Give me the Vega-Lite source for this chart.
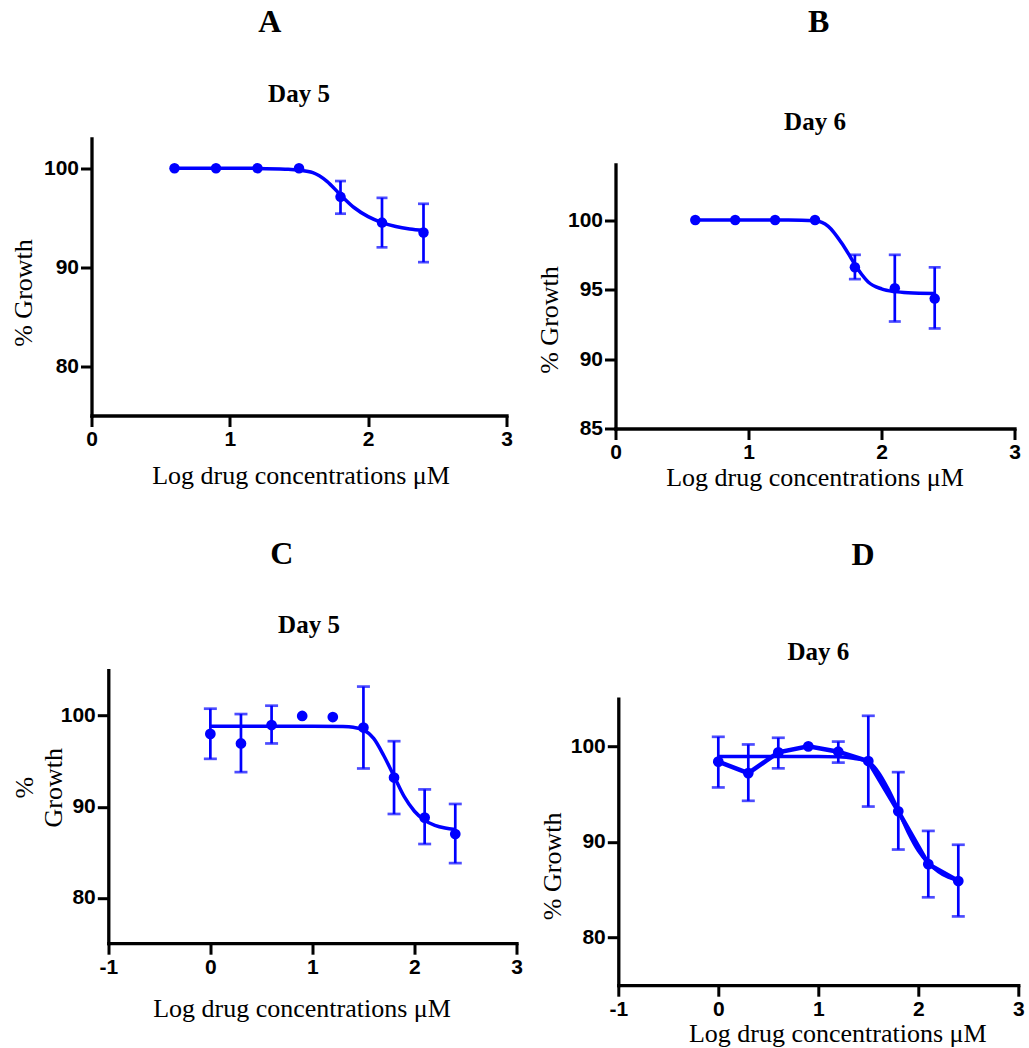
{
  "$schema": "https://vega.github.io/schema/vega-lite/v6.json",
  "background": "white",
  "padding": {"left": 10.5, "top": 5.5, "right": 0, "bottom": 0},
  "config": {
    "view": {"stroke": null},
    "axis": {
      "grid": false,
      "domainColor": "black",
      "domainWidth": 3.3,
      "domainCap": "square",
      "tickColor": "black",
      "tickWidth": 3,
      "tickSize": 11,
      "labelFont": "Liberation Sans",
      "labelFontWeight": "bold",
      "labelFontSize": 21,
      "labelColor": "black",
      "labelPadding": 2,
      "labelOverlap": false,
      "labelFlush": false,
      "titleFont": "Liberation Serif",
      "titleFontWeight": "normal",
      "titleFontSize": 26,
      "titleColor": "black",
      "titleBaseline": "alphabetic",
      "titleAlign": "center"
    },
    "title": {"font": "Liberation Serif", "fontWeight": "bold", "color": "black", "anchor": "middle"}
  },
  "datasets": {
    "ptsA": [
      {"x": 0.6, "y": 100}, {"x": 0.9, "y": 100}, {"x": 1.2, "y": 100}, {"x": 1.5, "y": 100},
      {"x": 1.8, "y": 97.1, "lo": 95.4, "hi": 98.7},
      {"x": 2.1, "y": 94.5, "lo": 92.0, "hi": 97.0},
      {"x": 2.4, "y": 93.5, "lo": 90.5, "hi": 96.4}
    ],
    "fitA": [
      {"x": 0.6, "y": 100}, {"x": 1.0, "y": 100}, {"x": 1.2, "y": 99.98}, {"x": 1.4, "y": 99.9},
      {"x": 1.5, "y": 99.8}, {"x": 1.6, "y": 99.55}, {"x": 1.7, "y": 98.7}, {"x": 1.8, "y": 97.3},
      {"x": 1.9, "y": 96.0}, {"x": 2.0, "y": 95.1}, {"x": 2.1, "y": 94.5}, {"x": 2.2, "y": 94.1},
      {"x": 2.3, "y": 93.85}, {"x": 2.4, "y": 93.7}
    ],
    "ptsB": [
      {"x": 0.6, "y": 100}, {"x": 0.9, "y": 100}, {"x": 1.2, "y": 100}, {"x": 1.5, "y": 100},
      {"x": 1.8, "y": 96.6, "lo": 95.75, "hi": 97.5},
      {"x": 2.1, "y": 95.1, "lo": 92.7, "hi": 97.5},
      {"x": 2.4, "y": 94.35, "lo": 92.2, "hi": 96.6}
    ],
    "fitB": [
      {"x": 0.6, "y": 100}, {"x": 1.0, "y": 100}, {"x": 1.3, "y": 100}, {"x": 1.5, "y": 99.95},
      {"x": 1.6, "y": 99.55}, {"x": 1.7, "y": 98.35}, {"x": 1.75, "y": 97.6}, {"x": 1.8, "y": 96.8},
      {"x": 1.85, "y": 96.1}, {"x": 1.9, "y": 95.55}, {"x": 2.0, "y": 95.05}, {"x": 2.1, "y": 94.85},
      {"x": 2.2, "y": 94.77}, {"x": 2.4, "y": 94.72}
    ],
    "ptsC": [
      {"x": 0, "y": 98.0, "lo": 95.26, "hi": 100.77},
      {"x": 0.3, "y": 96.95, "lo": 93.8, "hi": 100.18},
      {"x": 0.6, "y": 98.97, "lo": 96.95, "hi": 101.1},
      {"x": 0.9, "y": 99.97},
      {"x": 1.2, "y": 99.85},
      {"x": 1.5, "y": 98.7, "lo": 94.2, "hi": 103.2},
      {"x": 1.8, "y": 93.2, "lo": 89.2, "hi": 97.2},
      {"x": 2.1, "y": 88.8, "lo": 85.9, "hi": 91.9},
      {"x": 2.4, "y": 87.0, "lo": 83.8, "hi": 90.3}
    ],
    "fitC": [
      {"x": 0, "y": 98.85}, {"x": 0.5, "y": 98.85}, {"x": 1.0, "y": 98.85}, {"x": 1.3, "y": 98.8},
      {"x": 1.4, "y": 98.72}, {"x": 1.5, "y": 98.45}, {"x": 1.6, "y": 97.5}, {"x": 1.7, "y": 95.6},
      {"x": 1.8, "y": 93.35}, {"x": 1.9, "y": 91.1}, {"x": 2.0, "y": 89.5}, {"x": 2.1, "y": 88.5},
      {"x": 2.2, "y": 87.95}, {"x": 2.3, "y": 87.65}, {"x": 2.4, "y": 87.5}
    ],
    "ptsD": [
      {"x": 0, "y": 98.4, "lo": 95.7, "hi": 101.0},
      {"x": 0.3, "y": 97.2, "lo": 94.3, "hi": 100.2},
      {"x": 0.6, "y": 99.37, "lo": 97.7, "hi": 100.9},
      {"x": 0.9, "y": 100},
      {"x": 1.2, "y": 99.44, "lo": 98.3, "hi": 100.5},
      {"x": 1.5, "y": 98.46, "lo": 93.7, "hi": 103.2},
      {"x": 1.8, "y": 93.2, "lo": 89.2, "hi": 97.3},
      {"x": 2.1, "y": 87.67, "lo": 84.2, "hi": 91.15},
      {"x": 2.4, "y": 85.9, "lo": 82.2, "hi": 89.7}
    ],
    "fitD": [
      {"x": 0, "y": 98.95}, {"x": 0.5, "y": 98.95}, {"x": 1.0, "y": 98.95}, {"x": 1.2, "y": 98.9},
      {"x": 1.35, "y": 98.75}, {"x": 1.5, "y": 98.4}, {"x": 1.6, "y": 97.3}, {"x": 1.7, "y": 95.5},
      {"x": 1.8, "y": 93.3}, {"x": 1.9, "y": 91.0}, {"x": 2.0, "y": 89.1}, {"x": 2.1, "y": 87.8},
      {"x": 2.2, "y": 86.9}, {"x": 2.3, "y": 86.3}, {"x": 2.4, "y": 86.0}
    ]
  },
  "spacing": 46.7,
  "vconcat": [
    {
      "spacing": 24,
      "hconcat": [
        {
          "title": {"text": "A", "fontSize": 32, "dx": 8.5, "offset": 42.8},
          "vconcat": [
            {
              "title": {"text": "Day 5", "fontSize": 25, "offset": 31.8},
              "width": 415,
              "height": 277,
              "encoding": {
                "x": {"field": "x", "type": "quantitative", "scale": {"domain": [0, 3], "nice": false, "zero": false},
                      "axis": {"values": [0, 1, 2, 3], "title": "Log drug concentrations μM", "titleX": 209, "titleY": 68}},
                "y": {"field": "y", "type": "quantitative", "scale": {"domain": [75, 103], "nice": false, "zero": false},
                      "axis": {"values": [80, 90, 100], "title": "% Growth", "titleAngle": 270, "titleX": -60, "titleY": 154}}
              },
              "layer": [
                {"data": {"name": "fitA"}, "mark": {"type": "line", "color": "#0000ff", "strokeWidth": 3.5, "interpolate": "monotone"}},
                {"data": {"name": "ptsA"}, "transform": [{"filter": "isValid(datum.lo)"}],
                 "mark": {"type": "rule", "color": "#0000ff", "strokeWidth": 2.7},
                 "encoding": {"y": {"field": "lo", "type": "quantitative"}, "y2": {"field": "hi"}}},
                {"data": {"name": "ptsA"}, "transform": [{"filter": "isValid(datum.lo)"}],
                 "mark": {"type": "tick", "orient": "horizontal", "color": "#0000ff", "size": 11, "thickness": 2.7},
                 "encoding": {"y": {"field": "lo", "type": "quantitative"}}},
                {"data": {"name": "ptsA"}, "transform": [{"filter": "isValid(datum.lo)"}],
                 "mark": {"type": "tick", "orient": "horizontal", "color": "#0000ff", "size": 11, "thickness": 2.7},
                 "encoding": {"y": {"field": "hi", "type": "quantitative"}}},
                {"data": {"name": "ptsA"}, "mark": {"type": "circle", "color": "#0000ff", "opacity": 1, "size": 110}}
              ]
            }
          ]
        },
        {
          "title": {"text": "B", "fontSize": 32, "dx": 40.3, "offset": 71.5},
          "vconcat": [
            {
              "title": {"text": "Day 6", "fontSize": 25, "offset": 3.5},
              "width": 399,
              "height": 290,
              "encoding": {
                "x": {"field": "x", "type": "quantitative", "scale": {"domain": [0, 3], "nice": false, "zero": false},
                      "axis": {"values": [0, 1, 2, 3], "title": "Log drug concentrations μM", "titleX": 199, "titleY": 57}},
                "y": {"field": "y", "type": "quantitative", "scale": {"domain": [85, 104], "range": [290, 26], "nice": false, "zero": false},
                      "axis": {"values": [85, 90, 95, 100], "title": "% Growth", "titleAngle": 270, "titleX": -58, "titleY": 181}}
              },
              "layer": [
                {"data": {"name": "fitB"}, "mark": {"type": "line", "color": "#0000ff", "strokeWidth": 3.5, "interpolate": "monotone"}},
                {"data": {"name": "ptsB"}, "transform": [{"filter": "isValid(datum.lo)"}],
                 "mark": {"type": "rule", "color": "#0000ff", "strokeWidth": 2.7},
                 "encoding": {"y": {"field": "lo", "type": "quantitative"}, "y2": {"field": "hi"}}},
                {"data": {"name": "ptsB"}, "transform": [{"filter": "isValid(datum.lo)"}],
                 "mark": {"type": "tick", "orient": "horizontal", "color": "#0000ff", "size": 12, "thickness": 2.7},
                 "encoding": {"y": {"field": "lo", "type": "quantitative"}}},
                {"data": {"name": "ptsB"}, "transform": [{"filter": "isValid(datum.lo)"}],
                 "mark": {"type": "tick", "orient": "horizontal", "color": "#0000ff", "size": 12, "thickness": 2.7},
                 "encoding": {"y": {"field": "hi", "type": "quantitative"}}},
                {"data": {"name": "ptsB"}, "mark": {"type": "circle", "color": "#0000ff", "opacity": 1, "size": 110}}
              ]
            }
          ]
        }
      ]
    },
    {
      "spacing": 16.8,
      "hconcat": [
        {
          "title": {"text": "C", "fontSize": 32, "dx": 15, "offset": 42.5},
          "vconcat": [
            {
              "title": {"text": "Day 5", "fontSize": 25, "offset": 32.1, "dx": 5},
              "width": 425,
              "height": 273,
              "encoding": {
                "x": {"field": "x", "type": "quantitative", "scale": {"domain": [-1, 3], "range": [16.8, 425], "nice": false, "zero": false},
                      "axis": {"values": [-1, 0, 1, 2, 3], "labelExpr": "'' + datum.value", "title": "Log drug concentrations μM", "titleX": 210, "titleY": 73}},
                "y": {"field": "y", "type": "quantitative", "scale": {"domain": [75, 105], "nice": false, "zero": false},
                      "axis": {"values": [80, 90, 100], "offset": -16.8, "title": ["%", "Growth"], "titleLineHeight": 29.5, "titleAngle": 270, "titleX": -76, "titleY": 117}}
              },
              "layer": [
                {"data": {"name": "fitC"}, "mark": {"type": "line", "color": "#0000ff", "strokeWidth": 3.5, "interpolate": "monotone"}},
                {"data": {"name": "ptsC"}, "transform": [{"filter": "isValid(datum.lo)"}],
                 "mark": {"type": "rule", "color": "#0000ff", "strokeWidth": 2.7},
                 "encoding": {"y": {"field": "lo", "type": "quantitative"}, "y2": {"field": "hi"}}},
                {"data": {"name": "ptsC"}, "transform": [{"filter": "isValid(datum.lo)"}],
                 "mark": {"type": "tick", "orient": "horizontal", "color": "#0000ff", "size": 13, "thickness": 2.7},
                 "encoding": {"y": {"field": "lo", "type": "quantitative"}}},
                {"data": {"name": "ptsC"}, "transform": [{"filter": "isValid(datum.lo)"}],
                 "mark": {"type": "tick", "orient": "horizontal", "color": "#0000ff", "size": 13, "thickness": 2.7},
                 "encoding": {"y": {"field": "hi", "type": "quantitative"}}},
                {"data": {"name": "ptsC"}, "mark": {"type": "circle", "color": "#0000ff", "opacity": 1, "size": 115}}
              ]
            }
          ]
        },
        {
          "title": {"text": "D", "fontSize": 32, "dx": 81, "offset": 67.9},
          "vconcat": [
            {
              "title": {"text": "Day 6", "fontSize": 25, "offset": 5.5},
              "width": 400,
              "height": 315,
              "encoding": {
                "x": {"field": "x", "type": "quantitative", "scale": {"domain": [-1, 3], "nice": false, "zero": false},
                      "axis": {"values": [-1, 0, 1, 2, 3], "labelExpr": "'' + datum.value", "title": "Log drug concentrations μM", "titleX": 219, "titleY": 56}},
                "y": {"field": "y", "type": "quantitative", "scale": {"domain": [75, 105], "range": [315, 28.4], "nice": false, "zero": false},
                      "axis": {"values": [80, 90, 100], "title": "% Growth", "titleAngle": 270, "titleX": -57.5, "titleY": 195.7}}
              },
              "layer": [
                {"data": {"name": "ptsD"}, "mark": {"type": "line", "color": "#0000ff", "strokeWidth": 4.5}},
                {"data": {"name": "fitD"}, "mark": {"type": "line", "color": "#0000ff", "strokeWidth": 3.5, "interpolate": "monotone"}},
                {"data": {"name": "ptsD"}, "transform": [{"filter": "isValid(datum.lo)"}],
                 "mark": {"type": "rule", "color": "#0000ff", "strokeWidth": 2.7},
                 "encoding": {"y": {"field": "lo", "type": "quantitative"}, "y2": {"field": "hi"}}},
                {"data": {"name": "ptsD"}, "transform": [{"filter": "isValid(datum.lo)"}],
                 "mark": {"type": "tick", "orient": "horizontal", "color": "#0000ff", "size": 13, "thickness": 2.7},
                 "encoding": {"y": {"field": "lo", "type": "quantitative"}}},
                {"data": {"name": "ptsD"}, "transform": [{"filter": "isValid(datum.lo)"}],
                 "mark": {"type": "tick", "orient": "horizontal", "color": "#0000ff", "size": 13, "thickness": 2.7},
                 "encoding": {"y": {"field": "hi", "type": "quantitative"}}},
                {"data": {"name": "ptsD"}, "mark": {"type": "circle", "color": "#0000ff", "opacity": 1, "size": 115}}
              ]
            }
          ]
        }
      ]
    }
  ]
}
